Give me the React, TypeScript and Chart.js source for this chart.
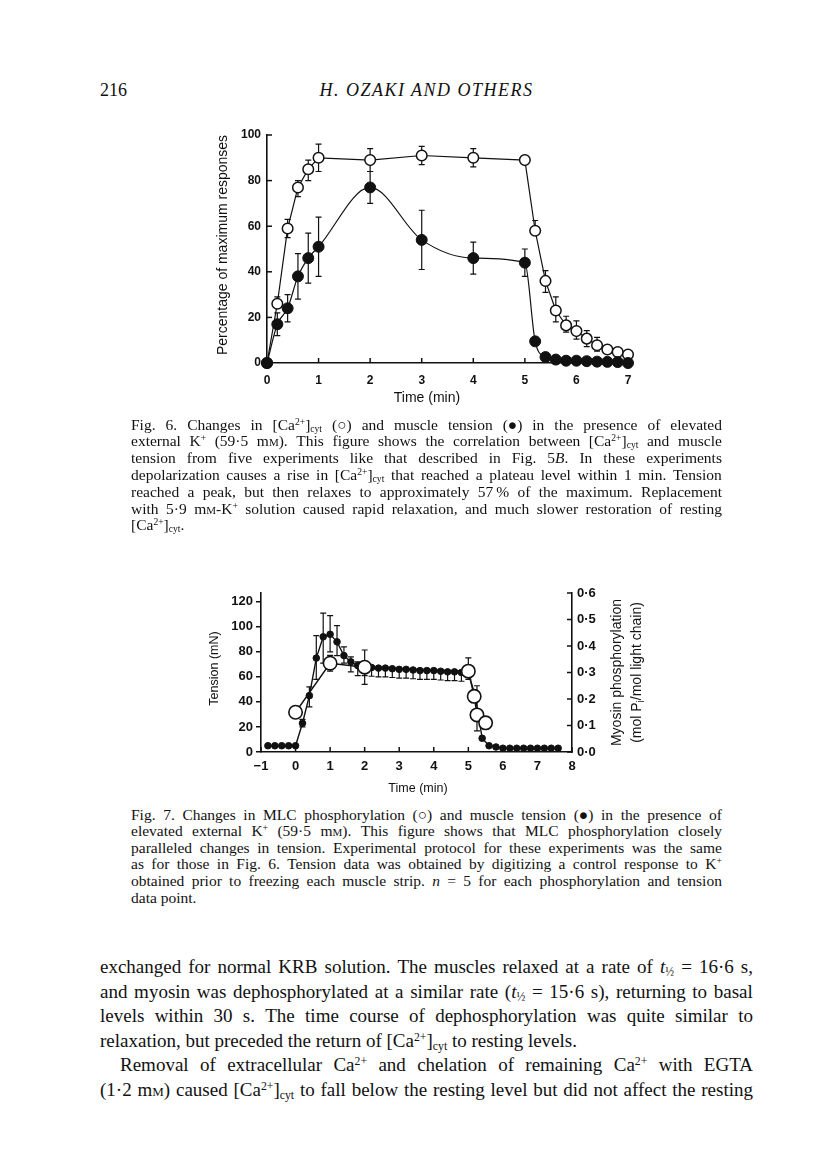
import React, { useEffect, useRef } from "react";
import { Chart, registerables } from "chart.js";

Chart.register(...registerables);

// ===================== Fig. 6 data =====================
const fig6Time = [0, 0.2, 0.4, 0.6, 0.8, 1, 2, 3, 4, 5, 5.2, 5.4, 5.6, 5.8, 6, 6.2, 6.4, 6.6, 6.8, 7];
const fig6Ca = [0, 26, 59, 77, 85, 90, 89, 91, 90, 89, 58, 36, 23, 16.5, 14, 10.7, 7.8, 5.9, 4.8, 3.7];
const fig6CaErrUp = [0, 3, 4, 3, 4, 6, 5, 4, 4, 0, 4.5, 4.5, 6, 4, 4.5, 3.5, 3.4, 0, 0, 0];
const fig6CaErrDown = [0, 0, 4, 4, 5, 6, 5, 4, 4, 0, 0, 5, 5, 3, 3.5, 3.5, 2.6, 0, 0, 0];
const fig6Tension = [0, 17, 24, 38, 46, 51, 77, 54, 46, 44, 9.5, 2.6, 1.5, 1, 1, 0.8, 0.6, 0.5, 0.4, 0];
const fig6TensionErrUp = [0, 5, 6, 10, 11, 13, 7, 13, 7, 6, 0, 0, 0, 0, 0, 0, 0, 0, 0, 0];
const fig6TensionErrDown = [0, 5, 6, 10, 11, 13, 7, 13, 7, 6, 0, 0, 0, 0, 0, 0, 0, 0, 0, 0];
const fig6XTicks = [0, 1, 2, 3, 4, 5, 6, 7];
const fig6YTicks = [0, 20, 40, 60, 80, 100];

// ===================== Fig. 7 data =====================
const fig7TensionTime = [
  -0.8, -0.6, -0.4, -0.2, 0, 0.2, 0.4, 0.6, 0.8, 1, 1.2, 1.4, 1.6, 1.8, 2, 2.2, 2.4, 2.6, 2.8, 3, 3.2, 3.4,
  3.6, 3.8, 4, 4.2, 4.4, 4.6, 4.8, 5, 5.2, 5.4, 5.6, 5.8, 6, 6.2, 6.4, 6.6, 6.8, 7, 7.2, 7.4, 7.6,
];
const fig7Tension = [
  5, 5, 5, 5, 5, 23, 45, 75, 92, 94, 88, 77, 72, 69, 68, 67.5, 67, 67, 66.5, 66, 66, 65.5,
  65, 65, 65, 64.5, 64, 64, 63.5, 63, 45, 11, 5, 4, 3, 3, 3, 3, 3, 3, 3, 3, 3,
];
const fig7TensionErrUp = [
  0, 0, 0, 0, 0, 3, 7, 18, 19, 15, 13, 7, 4, 3, 0, 0, 0, 0, 0, 0, 0, 0,
  0, 0, 0, 0, 0, 0, 0, 0, 0, 0, 0, 0, 0, 0, 0, 0, 0, 0, 0, 0, 0,
];
const fig7TensionErrDown = [
  0, 0, 0, 0, 0, 3, 9, 17, 21, 14, 11, 6, 8, 8, 7, 7, 7, 7, 7, 7, 7, 7,
  7, 7, 7, 7, 7, 7, 7, 5, 0, 0, 0, 0, 0, 0, 0, 0, 0, 0, 0, 0, 0,
];
const fig7PhosTime = [0, 1, 2, 5, 5.17, 5.25, 5.5];
const fig7Phos = [0.15, 0.335, 0.32, 0.305, 0.21, 0.14, 0.11];
const fig7PhosErrUp = [0, 0.03, 0.065, 0.05, 0, 0.11, 0];
const fig7PhosErrDown = [0, 0.03, 0.065, 0, 0, 0.06, 0];
const fig7XTicks = [-1, 0, 1, 2, 3, 4, 5, 6, 7, 8];
const fig7TensionTicks = [0, 20, 40, 60, 80, 100, 120];
const fig7PhosTicks = [0, 0.1, 0.2, 0.3, 0.4, 0.5, 0.6];

// ===================== page text =====================
const headerPage = "216";
const headerTitle = "H. OZAKI AND OTHERS";
const caption6 = [
  "Fig. 6. Changes in [Ca^{2+}]_{cyt} (○) and muscle tension (●) in the presence of elevated",
  "external K^{+} (59·5 m~m~). This figure shows the correlation between [Ca^{2+}]_{cyt} and muscle",
  "tension from five experiments like that described in Fig. 5*B*. In these experiments",
  "depolarization causes a rise in [Ca^{2+}]_{cyt} that reached a plateau level within 1 min. Tension",
  "reached a peak, but then relaxes to approximately 57\u2009% of the maximum. Replacement",
  "with 5·9 m~m~-K^{+} solution caused rapid relaxation, and much slower restoration of resting",
  "[Ca^{2+}]_{cyt}.",
];
const caption7 = [
  "Fig. 7. Changes in MLC phosphorylation (○) and muscle tension (●) in the presence of",
  "elevated external K^{+} (59·5 m~m~). This figure shows that MLC phosphorylation closely",
  "paralleled changes in tension. Experimental protocol for these experiments was the same",
  "as for those in Fig. 6. Tension data was obtained by digitizing a control response to K^{+}",
  "obtained prior to freezing each muscle strip. *n* = 5 for each phosphorylation and tension",
  "data point.",
];
const bodyLines = [
  "exchanged for normal KRB solution. The muscles relaxed at a rate of *t*_{½} = 16·6 s,",
  "and myosin was dephosphorylated at a similar rate (*t*_{½} = 15·6 s), returning to basal",
  "levels within 30 s. The time course of dephosphorylation was quite similar to",
  "relaxation, but preceded the return of [Ca^{2+}]_{cyt} to resting levels.",
  "Removal of extracellular Ca^{2+} and chelation of remaining Ca^{2+} with EGTA",
  "(1·2 m~m~) caused [Ca^{2+}]_{cyt} to fall below the resting level but did not affect the resting",
];

const SANS = "'Liberation Sans', Arial, sans-serif";
const SERIF = "'Liberation Serif', 'Times New Roman', serif";
const INK = "#111";

// ===================== plugins =====================
const errorBarsPlugin = {
  id: "errorBars",
  beforeDatasetsDraw(chart: any) {
    const ctx = chart.ctx;
    chart.data.datasets.forEach((ds: any, i: number) => {
      if (!ds.errUp) return;
      const meta = chart.getDatasetMeta(i);
      const xs = chart.scales[meta.xAxisID];
      const ys = chart.scales[meta.yAxisID];
      const cap = ds.errCap ?? 3;
      ctx.save();
      ctx.strokeStyle = INK;
      ctx.lineWidth = ds.errLineWidth ?? 1.2;
      ds.data.forEach((p: any, j: number) => {
        const x = xs.getPixelForValue(p.x);
        const y = ys.getPixelForValue(p.y);
        const ends: number[] = [];
        if (ds.errUp[j] > 0) ends.push(ys.getPixelForValue(p.y + ds.errUp[j]));
        if (ds.errDown[j] > 0) ends.push(ys.getPixelForValue(p.y - ds.errDown[j]));
        ends.forEach((ye) => {
          ctx.beginPath();
          ctx.moveTo(x, y);
          ctx.lineTo(x, ye);
          ctx.moveTo(x - cap, ye);
          ctx.lineTo(x + cap, ye);
          ctx.stroke();
        });
      });
      ctx.restore();
    });
  },
};

type TickSpec = { scale: string; dir: "up" | "right" | "left"; len: number };
function tickMarksPlugin(specs: TickSpec[]) {
  return {
    id: "tickMarks",
    afterDraw(chart: any) {
      const ctx = chart.ctx;
      const a = chart.chartArea;
      ctx.save();
      ctx.strokeStyle = INK;
      ctx.lineWidth = 1.5;
      specs.forEach((s) => {
        const sc = chart.scales[s.scale];
        sc.ticks.forEach((t: any) => {
          const p = sc.getPixelForValue(t.value);
          ctx.beginPath();
          if (s.dir === "up") {
            ctx.moveTo(p, a.bottom);
            ctx.lineTo(p, a.bottom - s.len);
          } else if (s.dir === "right") {
            ctx.moveTo(a.left, p);
            ctx.lineTo(a.left + s.len, p);
          } else {
            ctx.moveTo(a.right, p);
            ctx.lineTo(a.right - s.len, p);
          }
          ctx.stroke();
        });
      });
      ctx.restore();
    },
  };
}

type Part = { text: string; font: string; dy?: number };
type TitleSpec = { parts: Part[]; rotate: number; place: (a: any) => { x: number; y: number } };
function titlesPlugin(items: TitleSpec[]) {
  return {
    id: "axisTitles",
    afterDraw(chart: any) {
      const ctx = chart.ctx;
      const a = chart.chartArea;
      items.forEach((it) => {
        const { x, y } = it.place(a);
        ctx.save();
        ctx.translate(x, y);
        ctx.rotate(it.rotate);
        ctx.fillStyle = INK;
        ctx.textBaseline = "middle";
        ctx.textAlign = "left";
        let total = 0;
        it.parts.forEach((p) => {
          ctx.font = p.font;
          total += ctx.measureText(p.text).width;
        });
        let cx = -total / 2;
        it.parts.forEach((p) => {
          ctx.font = p.font;
          ctx.fillText(p.text, cx, p.dy ?? 0);
          cx += ctx.measureText(p.text).width;
        });
        ctx.restore();
      });
    },
  };
}

const fixedTicks = (vals: number[]) => (s: any) => {
  s.ticks = vals.map((v) => ({ value: v }));
};

// ===================== charts =====================
function buildFig6(canvas: HTMLCanvasElement) {
  const tickFont = { family: SANS, size: 12, weight: "bold" as const };
  return new Chart(canvas, {
    type: "line",
    data: {
      datasets: [
        {
          label: "Muscle tension",
          data: fig6Time.map((t, i) => ({ x: t, y: fig6Tension[i] })),
          borderColor: INK,
          borderWidth: 1.2,
          pointRadius: 5.5,
          pointBackgroundColor: INK,
          pointBorderColor: INK,
          pointBorderWidth: 1,
          cubicInterpolationMode: "monotone",
          clip: false,
          errUp: fig6TensionErrUp,
          errDown: fig6TensionErrDown,
        } as any,
        {
          label: "[Ca2+]cyt",
          data: fig6Time.map((t, i) => ({ x: t, y: fig6Ca[i] })),
          borderColor: INK,
          borderWidth: 1.2,
          pointRadius: 5.3,
          pointBackgroundColor: "#fff",
          pointBorderColor: INK,
          pointBorderWidth: 1.5,
          tension: 0,
          clip: false,
          errUp: fig6CaErrUp,
          errDown: fig6CaErrDown,
        } as any,
      ],
    },
    options: {
      responsive: false,
      animation: false,
      devicePixelRatio: 1,
      layout: { padding: { left: 0, top: 25, right: 22, bottom: 0 } },
      plugins: { legend: { display: false }, tooltip: { enabled: false } },
      scales: {
        x: {
          type: "linear",
          min: 0,
          max: 7,
          afterBuildTicks: fixedTicks(fig6XTicks),
          afterFit: (s: any) => {
            s.height = 57;
            s.paddingLeft = 0;
            s.paddingRight = 0;
          },
          grid: { display: false, drawTicks: false },
          border: { display: true, color: INK, width: 1.6 },
          ticks: { padding: 10, color: INK, font: tickFont, maxRotation: 0, autoSkip: false },
        },
        y: {
          type: "linear",
          min: 0,
          max: 100,
          afterBuildTicks: fixedTicks(fig6YTicks),
          afterFit: (s: any) => {
            s.width = 67;
            s.paddingTop = 0;
            s.paddingBottom = 0;
          },
          grid: { display: false, drawTicks: false },
          border: { display: true, color: INK, width: 1.6 },
          ticks: { padding: 6, color: INK, font: tickFont },
        },
      },
    },
    plugins: [
      errorBarsPlugin,
      tickMarksPlugin([
        { scale: "x", dir: "up", len: 5 },
        { scale: "y", dir: "right", len: 5 },
      ]),
      titlesPlugin([
        {
          parts: [{ text: "Percentage of maximum responses", font: `14px ${SANS}` }],
          rotate: -Math.PI / 2,
          place: (a) => ({ x: a.left - 44, y: (a.top + a.bottom) / 2 - 4 }),
        },
        {
          parts: [{ text: "Time (min)", font: `14px ${SANS}` }],
          rotate: 0,
          place: (a) => ({ x: a.left + 160, y: a.bottom + 35 }),
        },
      ]),
    ] as any,
  });
}

function buildFig7(canvas: HTMLCanvasElement) {
  const tickFont = { family: SANS, size: 13, weight: "bold" as const };
  return new Chart(canvas, {
    type: "line",
    data: {
      datasets: [
        {
          label: "MLC phosphorylation",
          data: fig7PhosTime.map((t, i) => ({ x: t, y: fig7Phos[i] })),
          yAxisID: "y1",
          borderColor: INK,
          borderWidth: 1.4,
          pointRadius: 6.7,
          pointBackgroundColor: "#fff",
          pointBorderColor: INK,
          pointBorderWidth: 1.6,
          tension: 0,
          clip: false,
          errUp: fig7PhosErrUp,
          errDown: fig7PhosErrDown,
        } as any,
        {
          label: "Muscle tension",
          data: fig7TensionTime.map((t, i) => ({ x: t, y: fig7Tension[i] })),
          yAxisID: "y",
          borderColor: INK,
          borderWidth: 1.4,
          pointRadius: 3.3,
          pointBackgroundColor: INK,
          pointBorderColor: INK,
          pointBorderWidth: 1,
          tension: 0,
          clip: false,
          errUp: fig7TensionErrUp,
          errDown: fig7TensionErrDown,
        } as any,
      ],
    },
    options: {
      responsive: false,
      animation: false,
      devicePixelRatio: 1,
      layout: { padding: { left: 0, top: 23, right: 0, bottom: 0 } },
      plugins: { legend: { display: false }, tooltip: { enabled: false } },
      scales: {
        x: {
          type: "linear",
          min: -1,
          max: 8,
          afterBuildTicks: fixedTicks(fig7XTicks),
          afterFit: (s: any) => {
            s.height = 53;
            s.paddingLeft = 0;
            s.paddingRight = 0;
          },
          grid: { display: false, drawTicks: false },
          border: { display: true, color: INK, width: 1.6 },
          ticks: {
            padding: 7,
            color: INK,
            font: tickFont,
            maxRotation: 0,
            autoSkip: false,
            callback: (v: any) => (Number(v) < 0 ? "\u2212" + Math.abs(Number(v)) : String(v)),
          },
        },
        y: {
          type: "linear",
          position: "left",
          min: 0,
          max: 127,
          afterBuildTicks: fixedTicks(fig7TensionTicks),
          afterFit: (s: any) => {
            s.width = 71;
            s.paddingTop = 0;
            s.paddingBottom = 0;
          },
          grid: { display: true, drawOnChartArea: false, drawTicks: true, tickLength: 5, color: INK, lineWidth: 1.5 },
          border: { display: true, color: INK, width: 1.6 },
          ticks: { padding: 3, color: INK, font: tickFont },
        },
        y1: {
          type: "linear",
          position: "right",
          min: 0,
          max: 0.6,
          afterBuildTicks: fixedTicks(fig7PhosTicks),
          afterFit: (s: any) => {
            s.width = 88;
            s.paddingTop = 0;
            s.paddingBottom = 0;
          },
          grid: { display: false, drawTicks: false },
          border: { display: true, color: INK, width: 1.6 },
          ticks: {
            padding: 5,
            color: INK,
            font: tickFont,
            callback: (v: any) => Number(v).toFixed(1).replace(".", "·"),
          },
        },
      },
    },
    plugins: [
      errorBarsPlugin,
      tickMarksPlugin([
        { scale: "x", dir: "up", len: 5 },
        { scale: "y1", dir: "left", len: 5 },
      ]),
      titlesPlugin([
        {
          parts: [{ text: "Tension (mN)", font: `12.5px ${SANS}` }],
          rotate: -Math.PI / 2,
          place: (a) => ({ x: a.left - 46, y: (a.top + a.bottom) / 2 - 4 }),
        },
        {
          parts: [{ text: "Time (min)", font: `12.5px ${SANS}` }],
          rotate: 0,
          place: (a) => ({ x: (a.left + a.right) / 2 + 1.5, y: a.bottom + 37 }),
        },
        {
          parts: [{ text: "Myosin phosphorylation", font: `14px ${SANS}` }],
          rotate: -Math.PI / 2,
          place: (a) => ({ x: a.right + 45, y: (a.top + a.bottom) / 2 }),
        },
        {
          parts: [
            { text: "(mol P", font: `14px ${SANS}` },
            { text: "i", font: `10px ${SANS}`, dy: 4 },
            { text: "/mol light chain)", font: `14px ${SANS}` },
          ],
          rotate: -Math.PI / 2,
          place: (a) => ({ x: a.right + 65, y: (a.top + a.bottom) / 2 }),
        },
      ]),
    ] as any,
  });
}

// ===================== text rendering =====================
const supStyle: React.CSSProperties = { fontSize: "0.62em", verticalAlign: "0.5em", lineHeight: 0 };
const subStyle: React.CSSProperties = { fontSize: "0.62em", verticalAlign: "-0.25em", lineHeight: 0 };

function renderWord(w: string, key: number) {
  const parts = w.split(/(\^\{[^}]*\}|_\{[^}]*\}|\*[^*]+\*|~[^~]+~)/).filter((p) => p.length > 0);
  return (
    <span key={key} style={{ whiteSpace: "nowrap" }}>
      {parts.map((p, i) => {
        if (p.startsWith("^{")) return <span key={i} style={supStyle}>{p.slice(2, -1)}</span>;
        if (p.startsWith("_{")) return <span key={i} style={subStyle}>{p.slice(2, -1)}</span>;
        if (p.startsWith("*")) return <i key={i}>{p.slice(1, -1)}</i>;
        if (p.startsWith("~")) return <span key={i} style={{ fontVariant: "small-caps" }}>{p.slice(1, -1)}</span>;
        return <React.Fragment key={i}>{p}</React.Fragment>;
      })}
    </span>
  );
}

function TextLine({ text, justify, indent, lh }: { text: string; justify: boolean; indent?: number; lh: number }) {
  const words = text.split(" ");
  if (justify) {
    return (
      <div
        style={{
          display: "flex",
          justifyContent: "space-between",
          alignItems: "baseline",
          whiteSpace: "nowrap",
          height: lh,
          lineHeight: `${lh}px`,
          paddingLeft: indent ?? 0,
        }}
      >
        {words.map((w, i) => renderWord(w, i))}
      </div>
    );
  }
  return (
    <div style={{ whiteSpace: "nowrap", height: lh, lineHeight: `${lh}px`, paddingLeft: indent ?? 0 }}>
      {words.map((w, i) => (
        <React.Fragment key={i}>
          {i > 0 ? " " : ""}
          {renderWord(w, i)}
        </React.Fragment>
      ))}
    </div>
  );
}

function TextBlock({
  lines,
  left,
  top,
  width,
  size,
  lh,
  lastPlain,
  indents,
}: {
  lines: string[];
  left: number;
  top: number;
  width: number;
  size: number;
  lh: number;
  lastPlain: number[];
  indents?: Record<number, number>;
}) {
  return (
    <div style={{ position: "absolute", left, top, width, fontFamily: SERIF, fontSize: size, color: INK }}>
      {lines.map((t, i) => (
        <TextLine key={i} text={t} justify={!lastPlain.includes(i)} indent={indents?.[i]} lh={lh} />
      ))}
    </div>
  );
}

// ===================== App =====================
export default function App() {
  const c6 = useRef<HTMLCanvasElement | null>(null);
  const c7 = useRef<HTMLCanvasElement | null>(null);

  useEffect(() => {
    document.body.style.margin = "0";
    const ch6 = c6.current ? buildFig6(c6.current) : null;
    const ch7 = c7.current ? buildFig7(c7.current) : null;
    return () => {
      ch6?.destroy();
      ch7?.destroy();
    };
  }, []);

  return (
    <div style={{ position: "relative", width: 816, height: 1160, background: "#fff", overflow: "hidden" }}>
      <div style={{ position: "absolute", left: 100, top: 80, fontFamily: SERIF, fontSize: 18, lineHeight: "20px", color: INK }}>
        {headerPage}
      </div>
      <div
        style={{
          position: "absolute",
          left: 100,
          width: 653,
          top: 80,
          textAlign: "center",
          fontFamily: SERIF,
          fontStyle: "italic",
          fontSize: 18,
          letterSpacing: "1.5px",
          lineHeight: "20px",
          color: INK,
        }}
      >
        {headerTitle}
      </div>

      <canvas ref={c6} width={450} height={310} style={{ position: "absolute", left: 200, top: 110 }} />

      <TextBlock lines={caption6} left={131} top={416.6} width={591} size={15.5} lh={16.8} lastPlain={[6]} />

      <canvas ref={c7} width={470} height={235} style={{ position: "absolute", left: 190, top: 570 }} />

      <TextBlock lines={caption7} left={131} top={806.7} width={591} size={15.5} lh={16.6} lastPlain={[5]} />

      <TextBlock
        lines={bodyLines}
        left={100}
        top={955}
        width={653}
        size={19}
        lh={24.5}
        lastPlain={[3]}
        indents={{ 4: 20 }}
      />
    </div>
  );
}
